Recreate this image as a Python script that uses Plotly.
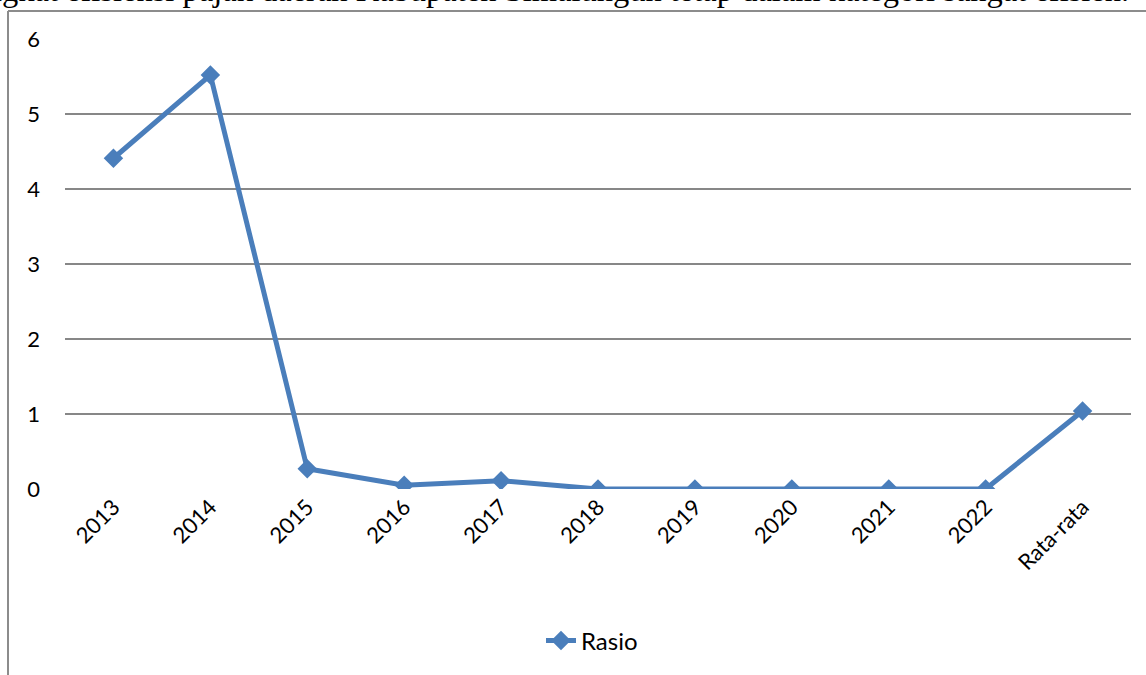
import plotly.graph_objects as go

categories = ["2013", "2014", "2015", "2016", "2017", "2018", "2019",
              "2020", "2021", "2022", "Rata-rata"]
rasio = [4.41, 5.52, 0.27, 0.05, 0.11, 0.0, 0.0, 0.0, 0.0, 0.0, 1.04]
y_ticks = [0, 1, 2, 3, 4, 5, 6]
caption = ("Tingkat efisiensi pajak daerah Kabupaten Simalungun "
           "tetap dalam kategori sangat efisien.")

W, H = 1146, 675
ML, MR, MT, MB = 65, 15, 39, 186
pw, ph = W - ML - MR, H - MT - MB


def px_x(x):
    return (x - ML) / pw


def px_y(y):
    return (H - MB - y) / ph


fig = go.Figure()
fig.add_trace(go.Scatter(
    x=categories, y=rasio, name="Rasio", mode="lines+markers",
    line=dict(color="#4A7EBB", width=5),
    marker=dict(symbol="diamond", size=15, color="#4A7EBB"),
))

font_main = dict(family="Lato, 'Open Sans', sans-serif", size=22, color="#000000")

fig.update_layout(
    width=W, height=H,
    margin=dict(l=ML, r=MR, t=MT, b=MB),
    paper_bgcolor="white", plot_bgcolor="white",
    font=font_main,
    showlegend=True,
    legend=dict(orientation="h", x=px_x(592), y=px_y(641),
                xanchor="center", yanchor="middle",
                font=dict(font_main, size=24)),
    xaxis=dict(type="category", range=[-0.5, len(categories) - 0.5],
               showgrid=False, showline=False,
               ticks="", tickangle=-45, tickfont=font_main,
               zeroline=False),
    yaxis=dict(range=[0, 6], tickvals=y_ticks, showgrid=True,
               gridcolor="#878787", gridwidth=1.5, zeroline=False,
               showline=False, ticks="", tickfont=font_main,
               ticklabelstandoff=24),
)

# frame around the chart area (top and left edges)
frame = dict(color="#8C8C8C", width=2)
fig.add_shape(type="line", xref="paper", yref="paper",
              x0=px_x(8), x1=px_x(W + 5), y0=px_y(11), y1=px_y(11),
              line=frame, layer="above")
fig.add_shape(type="line", xref="paper", yref="paper",
              x0=px_x(8), x1=px_x(8), y0=px_y(11), y1=px_y(H + 5),
              line=frame, layer="above")

fig.add_annotation(
    text=caption, xref="paper", yref="paper",
    x=px_x(1131), y=px_y(10), xanchor="right", yanchor="bottom",
    showarrow=False,
    font=dict(family="'Liberation Serif', 'Times New Roman', serif", size=32.5,
              color="#000000"),
)

fig.write_html("out.html")
